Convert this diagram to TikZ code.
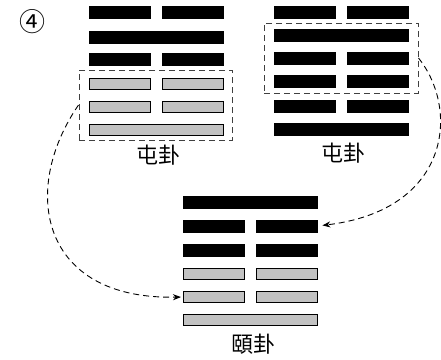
\documentclass[tikz,border=0pt]{standalone}
\usepackage{fontspec}
\newfontfamily\cjk{Noto Sans CJK TC}
\newfontfamily\numfont{DejaVu Serif}
\usetikzlibrary{arrows.meta}
\tikzset{
  blackbar/.style={fill=black, draw=black, line width=0.4pt, inner sep=0pt, minimum height=12pt},
  graybar/.style={fill=black!24, draw=black, line width=1pt, inner sep=0pt, minimum height=11pt},
  selbox/.style={draw=black!75, dashed, dash pattern=on 6pt off 4pt, line width=1pt, inner sep=0pt},
  movearrow/.style={draw=black, dash pattern=on 6pt off 4pt, line width=0.9pt, -{Stealth[length=8pt,width=6pt]}},
  guaname/.style={font=\cjk\fontsize{22}{22}\selectfont, inner sep=0pt}
}
% name, left x, centre y, style
\newcommand{\yangline}[4]{\node[#4, minimum width=134pt, anchor=west] (#1) at (#2,#3) {};}
\newcommand{\yinline}[4]{%
  \node[#4, minimum width=61pt, anchor=west] (#1a) at (#2,#3) {};
  \node[#4, minimum width=61pt, anchor=west] (#1b) at ({#2+73},#3) {};}
\begin{document}
\begin{tikzpicture}[x=1pt,y=-1pt]
\useasboundingbox (0,0) rectangle (441,359);
\fill[white] (0,0) rectangle (441,359);
% circled number
\node[font=\cjk\fontsize{26}{26}\selectfont, inner sep=0pt] (num) at (32,22) {④};
% left hexagram (Zhun)
\yinline{La}{89}{12.5}{blackbar}
\yangline{Lb}{89}{37}{blackbar}
\yinline{Lc}{89}{59.5}{blackbar}
\yinline{Ld}{89}{83.5}{graybar}
\yinline{Le}{89}{107}{graybar}
\yangline{Lf}{89}{130}{graybar}
\node[selbox, minimum width=153pt, minimum height=70pt] (lbox) at (155.5,105) {};
\node[guaname] (lname) at (158,155) {屯卦};
% right hexagram (Zhun)
\yinline{Ra}{274}{12}{blackbar}
\yangline{Rb}{274}{35.5}{blackbar}
\yinline{Rc}{274}{58.5}{blackbar}
\yinline{Rd}{274}{81.5}{blackbar}
\yinline{Re}{274}{106}{blackbar}
\yangline{Rf}{274}{129}{blackbar}
\node[selbox, minimum width=154pt, minimum height=70pt] (rbox) at (341,58) {};
\node[guaname] (rname) at (343,153) {屯卦};
% bottom hexagram (Yi)
\yangline{Ba}{183}{202.5}{blackbar}
\yinline{Bb}{183}{226}{blackbar}
\yinline{Bc}{183}{250}{blackbar}
\yinline{Bd}{183}{273.5}{graybar}
\yinline{Be}{183}{297}{graybar}
\yangline{Bf}{183}{320}{graybar}
\node[guaname] (bname) at (253,344) {頤卦};
% arrows
\draw[movearrow, shorten >=2pt] (lbox.west) .. controls (20,190) and (40,300) .. (Bea.west);
\draw[movearrow, shorten >=5pt] (rbox.east) .. controls (460,110) and (450,210) .. (Bbb.east);
\end{tikzpicture}
\end{document}
